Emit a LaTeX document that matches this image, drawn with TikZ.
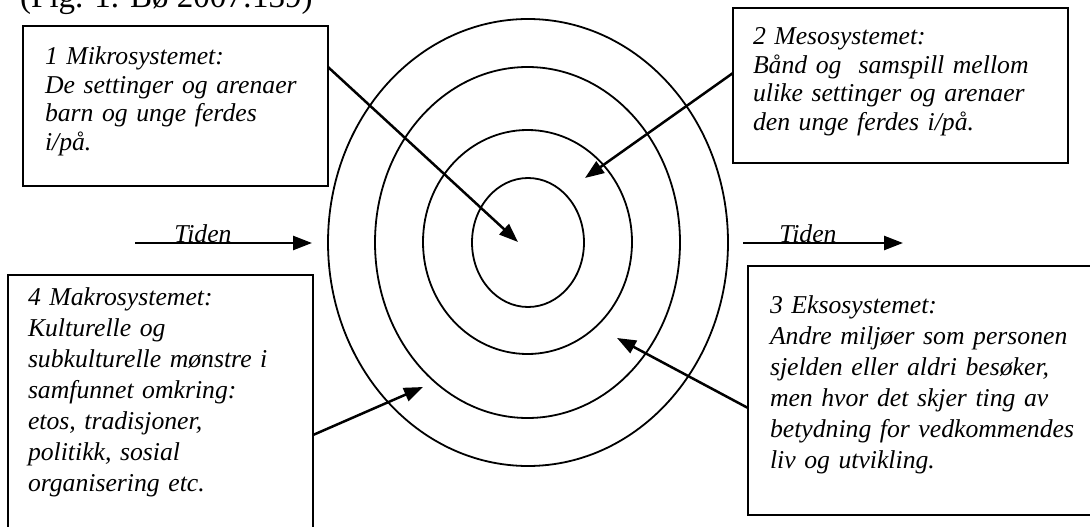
\documentclass[tikz,border=0pt]{standalone}
\usepackage{fontspec}
\setmainfont{Liberation Serif}
\usetikzlibrary{arrows.meta,shapes.geometric}

\begin{document}
\begin{tikzpicture}[x=1pt,y=-1pt,
  ring/.style={draw, ellipse, line width=1.8pt, inner sep=0pt, outer sep=0pt},
  infobox/.style={draw, line width=2pt, anchor=north west, align=left,
    inner ysep=0pt, outer sep=0pt, font=\fontsize{25.7}{28.4}\selectfont\itshape},
  widebox/.style={infobox, font=\fontsize{25.7}{31}\selectfont\itshape},
  pointer/.style={line width=2.5pt, -{Triangle[length=19pt,width=14pt]}},
  timelabel/.style={anchor=base, inner sep=0pt, font=\fontsize{25.7}{28}\selectfont\itshape}]

  % page frame
  \useasboundingbox (0,0) rectangle (1090,527);
  \clip (0,0) rectangle (1090,527);

  % caption line
  \node[anchor=base west, inner sep=0pt, font=\fontsize{33}{33}\selectfont] (caption) at (20,8) {(Fig. 1. Bø 2007:139)};

  % the four nested systems
  \node[ring, minimum width=400pt, minimum height=447pt] (ring4) at (528,242.5) {};
  \node[ring, minimum width=305pt, minimum height=351pt] (ring3) at (527.5,242.5) {};
  \node[ring, minimum width=209pt, minimum height=224pt] (ring2) at (527.5,242) {};
  \node[ring, minimum width=112pt, minimum height=129pt] (ring1) at (528,242.5) {};

  % text boxes
  \node[infobox, inner xsep=22pt, text width=261pt, text height=39pt, text depth=121pt] (mikro) at (23,26)
    {1 Mikrosystemet:\\De settinger og arenaer\\barn og unge ferdes\\i/på.};
  \node[infobox, inner xsep=20pt, text width=295pt, text height=37pt, text depth=118pt] (meso) at (733,8)
    {2 Mesosystemet:\\Bånd og~ samspill mellom\\ulike settinger og arenaer\\den unge ferdes i/på.};
  \node[widebox, inner xsep=22pt, text width=308pt, text height=47pt, text depth=202pt] (ekso) at (748,266)
    {3 Eksosystemet:\\Andre miljøer som personen\\sjelden eller aldri besøker,\\men hvor det skjer ting av\\betydning for vedkommendes\\liv og utvikling.};
  \node[widebox, inner xsep=20pt, text width=265pt, text height=30pt, text depth=240pt] (makro) at (8,275)
    {4 Makrosystemet:\\Kulturelle og\\subkulturelle mønstre i\\samfunnet omkring:\\etos, tradisjoner,\\politikk, sosial\\organisering etc.};

  % arrow targets inside the rings
  \coordinate (pmikro) at (518,242);
  \coordinate (pmeso) at (585,178);
  \coordinate (pekso) at (617,338);
  \coordinate (pmakro) at (423,387);

  \draw[pointer] ([yshift=-41pt]mikro.north east) -- (pmikro);
  \draw[pointer] ([yshift=-65pt]meso.north west) -- (pmeso);
  \draw[pointer] ([yshift=-142pt]ekso.north west) -- (pekso);
  \draw[pointer] ([yshift=-160pt]makro.north east) -- (pmakro);

  % time axis on both sides
  \coordinate (tl0) at (135,243);
  \coordinate (tl1) at (312,243);
  \coordinate (tr0) at (743,243);
  \coordinate (tr1) at (903,243);
  \draw[pointer] (tl0) -- (tl1);
  \draw[pointer] (tr0) -- (tr1);
  \node[timelabel] (tidL) at (203,242) {Tiden};
  \node[timelabel] (tidR) at (808,242) {Tiden};
\end{tikzpicture}
\end{document}
